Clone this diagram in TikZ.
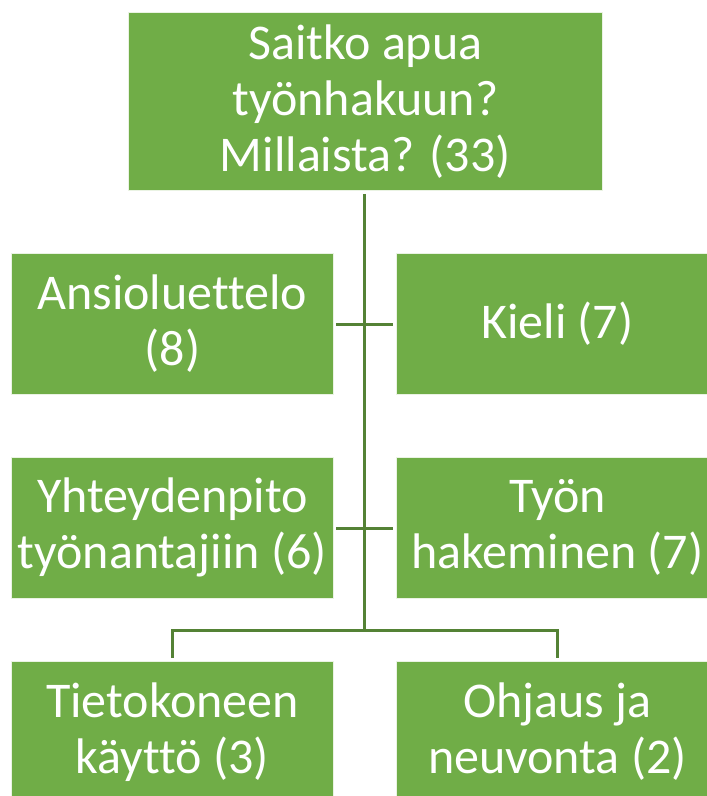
\documentclass[tikz,border=0pt]{standalone}
\usepackage{fontspec}
\setmainfont[Ligatures={NoCommon}]{Carlito}
\definecolor{boxgreen}{HTML}{70AD47}
\definecolor{linegreen}{HTML}{548235}
\begin{document}
\begin{tikzpicture}[x=1pt,y=-1pt,
  gbox/.style={draw=white!85!boxgreen, line width=0.8pt, fill=boxgreen, text=white,
    align=center, inner sep=0pt, font=\fontsize{50}{56}\selectfont, anchor=north west},
  conn/.style={draw=linegreen, line width=3pt}]
\clip (0,0) rectangle (707,796);
\fill[white] (0,0) rectangle (707,796);
\node[gbox, minimum width=474pt, minimum height=178pt] (top) at (128,12) {Saitko apua\\työnhakuun?\\Millaista? (33)};
\node[gbox, minimum width=322pt, minimum height=141pt] (ans) at (11,253) {Ansioluettelo\\(8)};
\node[gbox, minimum width=322pt, minimum height=141pt] (kie) at (396,253) {Kieli (7)};
\node[gbox, minimum width=322pt, minimum height=141pt] (yht) at (11,457) {Yhteydenpito\\työnantajiin (6)};
\node[gbox, minimum width=322pt, minimum height=141pt] (tyo) at (396,457) {Työn\\hakeminen (7)};
\node[gbox, minimum width=322pt, minimum height=141pt] (tie) at (11,661) {Tietokoneen\\käyttö (3)};
\node[gbox, minimum width=322pt, minimum height=141pt] (ohj) at (396,661) {Ohjaus ja\\neuvonta (2)};
\coordinate (bus) at (364,630);
\coordinate (busL) at (tie.north |- bus);
\coordinate (busR) at (ohj.north |- bus);
\coordinate (c1l) at (336,324);
\coordinate (c1r) at (393,324);
\coordinate (c2l) at (336,528);
\coordinate (c2r) at (393,528);
\draw[conn] ([yshift=-3pt]top.south -| bus) -- (bus);
\draw[conn] (c1l) -- (c1r);
\draw[conn] (c2l) -- (c2r);
\draw[conn, line cap=rect] (busL) -- (busR);
\draw[conn, shorten >=3pt] (busL) -- (tie.north);
\draw[conn, shorten >=3pt] (busR) -- (ohj.north);
\end{tikzpicture}
\end{document}
